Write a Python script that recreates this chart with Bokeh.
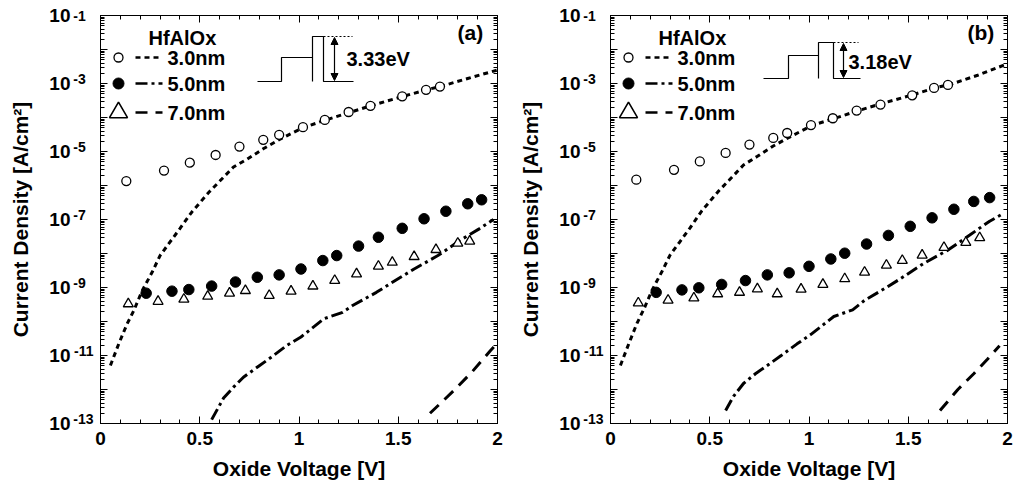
import math
from bokeh.plotting import figure
from bokeh.layouts import row
from bokeh.models import (Range1d, FixedTicker, LogAxis, LinearAxis,
                          NumeralTickFormatter, Label, Arrow, NormalHead)
from bokeh.embed import file_html
from bokeh.resources import INLINE

# ---------------- data ----------------
x_tick_values = [0, 0.5, 1, 1.5, 2]
y_tick_values = [1e-13, 1e-12, 1e-11, 1e-10, 1e-9, 1e-8, 1e-7,
                 1e-6, 1e-5, 1e-4, 1e-3, 1e-2, 1e-1]
y_tick_labels = ["10", "", "10", "", "10", "", "10", "", "10", "", "10", "", "10"]
y_tick_exponents = ["-13", "", "-11", "", "-9\u2007", "", "-7\u2007", "", "-5\u2007", "",
                    "-3\u2007", "", "-1\u2007"]
legend_title = "HfAlOx"
series_names = ["3.0nm", "5.0nm", "7.0nm"]
panel_tags = ["(a)", "(b)"]
barrier_labels = ["3.33eV", "3.18eV"]

# panel (a) measured
a_open_x = [0.13, 0.32, 0.45, 0.58, 0.70, 0.82, 0.90, 1.02, 1.13, 1.25, 1.36, 1.52, 1.64, 1.71]
a_open_y = [1.35e-6, 2.75e-6, 4.7e-6, 7.9e-6, 1.4e-5, 2.2e-5, 3.1e-5, 5.2e-5, 8.5e-5,
            1.45e-4, 2.2e-4, 4.2e-4, 6.5e-4, 8.1e-4]
a_fill_x = [0.23, 0.36, 0.445, 0.56, 0.68, 0.79, 0.90, 1.01, 1.12, 1.19, 1.30, 1.40,
            1.52, 1.63, 1.74, 1.85, 1.92]
a_fill_y = [6.8e-10, 7.8e-10, 8.7e-10, 1.1e-9, 1.45e-9, 2.0e-9, 2.35e-9, 3.5e-9, 6.2e-9,
            8.7e-9, 1.65e-8, 3.0e-8, 5.5e-8, 1.05e-7, 1.75e-7, 2.9e-7, 3.8e-7]
a_tri_x = [0.14, 0.29, 0.42, 0.54, 0.65, 0.73, 0.85, 0.96, 1.07, 1.18, 1.29, 1.40, 1.47,
           1.58, 1.69, 1.80, 1.86]
a_tri_y = [3.3e-10, 3.9e-10, 4.5e-10, 5.5e-10, 6.8e-10, 8.1e-10, 5.8e-10, 7.8e-10, 1.1e-9,
           1.6e-9, 2.5e-9, 4.2e-9, 5.5e-9, 8.1e-9, 1.3e-8, 2.0e-8, 2.3e-8]
# panel (a) simulated
a_l30_x = [0.05, 0.092, 0.134, 0.168, 0.21, 0.26, 0.30, 0.344, 0.40, 0.46, 0.546, 0.596,
           0.67, 0.74, 0.82, 0.907, 1.02, 1.13, 1.25, 1.36, 1.52, 1.64, 1.71, 1.85, 2.0]
a_l30_y = [5.1e-12, 2.2e-11, 8.5e-11, 2.1e-10, 8.1e-10, 2.8e-9, 8.7e-9, 1.95e-8, 5.4e-8,
           1.66e-7, 6.3e-7, 1.26e-6, 3.5e-6, 6.0e-6, 1.2e-5, 2.35e-5, 5.0e-5, 8.3e-5,
           1.38e-4, 2.2e-4, 4.1e-4, 6.5e-4, 8.1e-4, 1.4e-3, 2.5e-3]
a_l50_x = [0.56, 0.62, 0.67, 0.72, 0.80, 0.86, 0.94, 1.01, 1.125, 1.22, 1.27, 1.39, 1.46,
           1.58, 1.70, 1.81, 1.91, 1.98]
a_l50_y = [1.3e-13, 5.6e-13, 1.17e-12, 2.3e-12, 5.0e-12, 8.9e-12, 2.0e-11, 3.5e-11, 1.2e-10,
           1.86e-10, 2.95e-10, 7.2e-10, 1.3e-9, 3.5e-9, 8.7e-9, 2.4e-8, 5.4e-8, 1.0e-7]
a_l70_x = [1.66, 1.78, 1.87, 1.965, 1.99]
a_l70_y = [2.0e-13, 9.3e-13, 3.2e-12, 1.4e-11, 2.0e-11]

# panel (b) measured
b_open_x = [0.13, 0.32, 0.45, 0.58, 0.70, 0.82, 0.89, 1.01, 1.12, 1.24, 1.36, 1.52, 1.63, 1.70]
b_open_y = [1.48e-6, 2.9e-6, 5.1e-6, 9.1e-6, 1.6e-5, 2.5e-5, 3.5e-5, 6.0e-5, 9.5e-5,
            1.6e-4, 2.4e-4, 4.5e-4, 7.4e-4, 9.1e-4]
b_fill_x = [0.23, 0.36, 0.445, 0.56, 0.68, 0.79, 0.90, 1.00, 1.11, 1.18, 1.29, 1.40, 1.51,
            1.62, 1.73, 1.83, 1.91]
b_fill_y = [7.2e-10, 8.5e-10, 9.8e-10, 1.23e-9, 1.6e-9, 2.35e-9, 2.7e-9, 4.2e-9, 6.9e-9,
            1.02e-8, 1.9e-8, 3.4e-8, 6.3e-8, 1.12e-7, 2.0e-7, 3.4e-7, 4.4e-7]
b_tri_x = [0.14, 0.29, 0.42, 0.54, 0.65, 0.74, 0.84, 0.96, 1.07, 1.18, 1.28, 1.39, 1.47,
           1.57, 1.68, 1.79, 1.86]
b_tri_y = [3.5e-10, 4.2e-10, 4.9e-10, 6.5e-10, 7.2e-10, 9.1e-10, 6.5e-10, 8.9e-10, 1.23e-9,
           1.8e-9, 2.8e-9, 4.5e-9, 6.2e-9, 8.9e-9, 1.5e-8, 2.1e-8, 2.9e-8]
# panel (b) simulated
b_l30_x = [0.05, 0.092, 0.134, 0.168, 0.21, 0.26, 0.30, 0.344, 0.40, 0.46, 0.546, 0.596,
           0.67, 0.74, 0.82, 0.907, 1.02, 1.13, 1.25, 1.36, 1.52, 1.64, 1.71, 1.85, 2.0]
b_l30_y = [5.1e-12, 2.2e-11, 9.0e-11, 2.3e-10, 8.5e-10, 3.0e-9, 9.0e-9, 2.0e-8, 5.6e-8,
           1.8e-7, 7.0e-7, 1.4e-6, 4.0e-6, 7.2e-6, 1.45e-5, 2.75e-5, 6.0e-5, 9.5e-5,
           1.6e-4, 2.5e-4, 4.6e-4, 7.6e-4, 9.3e-4, 1.75e-3, 3.8e-3]
b_l50_x = [0.58, 0.62, 0.67, 0.73, 0.80, 0.86, 0.94, 1.01, 1.125, 1.22, 1.28, 1.39, 1.46,
           1.58, 1.70, 1.81, 1.91, 1.97]
b_l50_y = [2.4e-13, 6.3e-13, 1.5e-12, 2.9e-12, 5.6e-12, 1.0e-11, 2.2e-11, 4.2e-11, 1.4e-10,
           2.2e-10, 4.2e-10, 1.0e-9, 1.8e-9, 5.2e-9, 1.26e-8, 3.5e-8, 8.9e-8, 1.4e-7]
b_l70_x = [1.66, 1.75, 1.83, 1.90, 1.96]
b_l70_y = [2.4e-13, 1.0e-12, 2.9e-12, 7.9e-12, 1.95e-11]

# ---------------- style ----------------
FONT = "Liberation Sans"
DASH30 = "5 4"
DASH50 = "12 4 3 4"
DASH70 = "12 8"
FRAME_W = 397
FRAME_H = 408
X_MAX = 2.0
DECADES = 12.0
EXP_RAISE = 5 * DECADES / FRAME_H   # exponent raised by 5 px (in decades)


def at(rx, ry):
    """frame-relative pixel offset (from top-left) -> data coordinates"""
    return rx * X_MAX / FRAME_W, 10 ** (-1 - ry * DECADES / FRAME_H)


def label(p, rx, ry, text, size="20px", align="left"):
    x, y = at(rx, ry)
    p.add_layout(Label(x=x, y=y, text=text, text_font=FONT, text_font_style="bold",
                       text_font_size=size, text_baseline="middle", text_align=align,
                       text_color="black"))


def style_ticks(ax):
    ax.major_tick_in = 7
    ax.major_tick_out = 0
    ax.minor_tick_in = 4
    ax.minor_tick_out = 0
    ax.axis_line_color = "black"


def hidden_labels(ax):
    ax.major_label_text_font_size = "1px"
    ax.major_label_text_color = None
    ax.major_label_standoff = 0


def bare(ax):
    ax.axis_line_color = None
    ax.major_tick_line_color = None
    ax.minor_tick_line_color = None
    ax.major_tick_in = 0
    ax.major_tick_out = 0
    ax.minor_tick_in = 0
    ax.minor_tick_out = 0
    ax.major_label_text_font = FONT
    ax.major_label_text_font_style = "bold"
    ax.major_label_text_color = "black"


def make_panel(width, left, right, data, tag, barrier, inset):
    (ox, oy, fx, fy, tx, ty, l30x, l30y, l50x, l50y, l70x, l70y) = data
    p = figure(width=width, height=490, y_axis_type="log",
               x_range=Range1d(0, 2), y_range=Range1d(1e-13, 1e-1),
               output_backend="svg", toolbar_location=None,
               min_border_left=left, min_border_right=right,
               min_border_top=15, min_border_bottom=67)
    p.grid.visible = False
    p.background_fill_color = "white"
    p.border_fill_color = "white"
    p.outline_line_color = "black"
    p.outline_line_width = 1

    minor_y = [k * 10.0 ** n for n in range(-13, -1) for k in range(2, 10)]
    minor_x = [i / 10 for i in range(0, 21)]
    xt = FixedTicker(ticks=x_tick_values, minor_ticks=minor_x)
    yt = FixedTicker(ticks=y_tick_values, minor_ticks=minor_y)

    # bottom axis
    xa = p.xaxis[0]
    xa.ticker = xt
    xa.formatter = NumeralTickFormatter(format="0.[0]")
    xa.axis_label = "Oxide Voltage [V]"
    style_ticks(xa)
    xa.major_label_text_font = FONT
    xa.major_label_text_font_style = "bold"
    xa.major_label_text_font_size = "19px"
    xa.major_label_text_color = "black"
    xa.major_label_standoff = 8
    xa.axis_label_text_font = FONT
    xa.axis_label_text_font_style = "bold"
    xa.axis_label_text_font_size = "21px"
    xa.axis_label_text_color = "black"
    xa.axis_label_standoff = 9

    # left axis: ticks only (adjacent to the frame)
    ya = p.yaxis[0]
    ya.ticker = yt
    style_ticks(ya)
    hidden_labels(ya)

    # exponents of the tick labels (raised a little)
    exp_pos = [10 ** (math.log10(v) + (EXP_RAISE if v < 0.05 else 0.0))
               for v in y_tick_values]
    ea = LogAxis(ticker=FixedTicker(ticks=exp_pos),
                 major_label_overrides=dict(zip(exp_pos, y_tick_exponents)))
    bare(ea)
    ea.major_label_text_font_size = "14px"
    ea.major_label_standoff = 7
    p.add_layout(ea, "left")

    # mantissas "10" + axis title
    ta = LogAxis(ticker=FixedTicker(ticks=y_tick_values),
                 major_label_overrides=dict(zip(y_tick_values, y_tick_labels)),
                 axis_label="Current Density [A/cm²]")
    bare(ta)
    ta.major_label_text_font_size = "19px"
    ta.major_label_standoff = 0
    ta.axis_label_text_font = FONT
    ta.axis_label_text_font_style = "bold"
    ta.axis_label_text_font_size = "21px"
    ta.axis_label_text_color = "black"
    ta.axis_label_standoff = 14
    p.add_layout(ta, "left")

    top = LinearAxis(ticker=xt)
    style_ticks(top)
    hidden_labels(top)
    rgt = LogAxis(ticker=yt)
    style_ticks(rgt)
    hidden_labels(rgt)
    p.add_layout(top, "above")
    p.add_layout(rgt, "right")

    # simulated lines
    p.line(l30x, l30y, line_color="black", line_width=3, line_dash=DASH30)
    p.line(l50x, l50y, line_color="black", line_width=3, line_dash=DASH50)
    p.line(l70x, l70y, line_color="black", line_width=3, line_dash=DASH70)
    # measured points
    p.scatter(ox, oy, marker="circle", size=9, fill_color="white", line_color="black",
              line_width=1.3)
    p.scatter(fx, fy, marker="circle", size=10.5, fill_color="black", line_color="black")
    p.scatter(tx, ty, marker="triangle", size=10, fill_color="white", line_color="black",
              line_width=1.3)

    # legend
    label(p, 48, 22, legend_title)
    rows_y = [42, 68, 97]
    for i, (ry, name, dash) in enumerate(zip(rows_y, series_names, [DASH30, DASH50, DASH70])):
        mx, my = at(18, ry)
        if i == 0:
            p.scatter([mx], [my], marker="circle", size=9, fill_color="white",
                      line_color="black", line_width=1.3)
        elif i == 1:
            p.scatter([mx], [my], marker="circle", size=11, fill_color="black",
                      line_color="black")
        else:
            p.scatter([mx], [my], marker="triangle", size=18, fill_color="white",
                      line_color="black", line_width=1.6)
        x0, _ = at(35, ry)
        x1, _ = at(62, ry)
        p.line([x0, x1], [my, my], line_color="black", line_width=2.5, line_dash=dash)
        label(p, 67, ry, name)

    label(p, 357, 17, tag, size="21px")

    # band-diagram inset
    pts, dot, arr_x, text_xy = inset
    xs, ys = zip(*[at(a, b) for a, b in pts])
    p.line(list(xs), list(ys), line_color="black", line_width=1.2)
    (b0, b1, b2, b3) = dot
    dx0, dy0 = at(b0, b1)
    dx1, dy1 = at(b2, b3)
    p.line([dx0, dx1], [dy0, dy1], line_color="black", line_width=1, line_dash="2 2")
    ax0, ay0 = at(arr_x, dot[1] + 1)
    ax1, ay1 = at(arr_x, pts[-1][1] - 1)
    p.add_layout(Arrow(start=NormalHead(size=7, fill_color="black", line_color="black"),
                       end=NormalHead(size=7, fill_color="black", line_color="black"),
                       x_start=ax0, y_start=ay0, x_end=ax1, y_end=ay1,
                       line_color="black", line_width=1.2))
    label(p, text_xy[0], text_xy[1], barrier, size="20px")
    return p


inset_a = ([(157, 66), (181, 66), (181, 42), (212, 42), (212, 66), (212, 21), (223, 21),
            (223, 66), (253, 66)], (223, 21, 252, 21), 234, (246, 43))
inset_b = ([(153, 63), (178, 63), (178, 40), (208, 40), (208, 63), (208, 27), (223, 27),
            (223, 63), (250, 63)], (223, 27, 248, 27), 233, (238, 46))

pa = make_panel(511, 100, 14,
                (a_open_x, a_open_y, a_fill_x, a_fill_y, a_tri_x, a_tri_y,
                 a_l30_x, a_l30_y, a_l50_x, a_l50_y, a_l70_x, a_l70_y),
                panel_tags[0], barrier_labels[0], inset_a)
pb = make_panel(503, 99, 7,
                (b_open_x, b_open_y, b_fill_x, b_fill_y, b_tri_x, b_tri_y,
                 b_l30_x, b_l30_y, b_l50_x, b_l50_y, b_l70_x, b_l70_y),
                panel_tags[1], barrier_labels[1], inset_b)

layout = row(pa, pb)
open("out.html", "w").write(file_html(layout, INLINE))
